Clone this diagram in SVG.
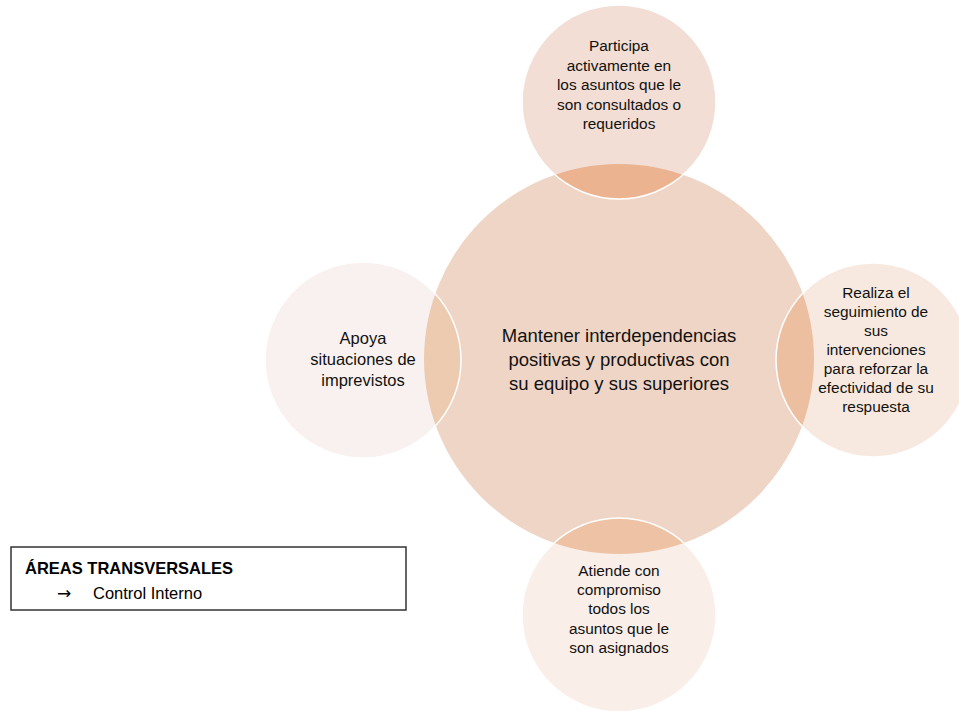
<svg xmlns="http://www.w3.org/2000/svg" width="959" height="711" viewBox="0 0 959 711">
<style>
.t{font-family:"Liberation Sans",Arial,sans-serif;font-size:15.4px;fill:#111;text-anchor:middle}
.m{font-size:18.5px}
.sat{stroke:#ffffff;stroke-width:1.5}
.lg{font-family:"Liberation Sans",Arial,sans-serif;font-size:16.5px;fill:#000}
</style>
<defs>
<clipPath id="mainClip"><circle cx="619" cy="359" r="195"/></clipPath>
</defs>
<rect width="959" height="711" fill="#ffffff"/>
<g id="main">
<circle cx="619" cy="359" r="195" fill="#EFD5C6"/>
<text class="t m" x="619" y="342">Mantener interdependencias</text>
<text class="t m" x="619" y="366">positivas y productivas con</text>
<text class="t m" x="619" y="390">su equipo y sus superiores</text>
</g>
<g id="top">
<circle cx="619" cy="102" r="97" fill="#F2DED4"/>
<circle cx="619" cy="102" r="97" fill="#EBB38F" clip-path="url(#mainClip)"/>
<circle class="sat" cx="619" cy="102" r="97" fill="none"/>
<text class="t" x="619" y="51">Participa</text>
<text class="t" x="619" y="71">activamente en</text>
<text class="t" x="619" y="90">los asuntos que le</text>
<text class="t" x="619" y="110">son consultados o</text>
<text class="t" x="619" y="129">requeridos</text>
</g>
<g id="right">
<circle cx="873" cy="360" r="97" fill="#F7E9DF"/>
<circle cx="873" cy="360" r="97" fill="#EBBF9F" clip-path="url(#mainClip)"/>
<circle class="sat" cx="873" cy="360" r="97" fill="none"/>
<text class="t" x="876" y="298">Realiza el</text>
<text class="t" x="876" y="317">seguimiento de</text>
<text class="t" x="876" y="336">sus</text>
<text class="t" x="876" y="355">intervenciones</text>
<text class="t" x="876" y="374">para reforzar la</text>
<text class="t" x="876" y="393">efectividad de su</text>
<text class="t" x="876" y="412">respuesta</text>
</g>
<g id="left">
<circle cx="363" cy="360" r="98" fill="#F9F1EF"/>
<circle cx="363" cy="360" r="98" fill="#ECCBB0" clip-path="url(#mainClip)"/>
<circle class="sat" cx="363" cy="360" r="98" fill="none"/>
<text class="t" x="363" y="344" style="font-size:16.5px">Apoya</text>
<text class="t" x="363" y="365" style="font-size:16.5px">situaciones de</text>
<text class="t" x="363" y="386" style="font-size:16.5px">imprevistos</text>
</g>
<g id="bottom">
<circle cx="619" cy="615" r="97" fill="#F9EEE8"/>
<circle cx="619" cy="615" r="97" fill="#EEC3A5" clip-path="url(#mainClip)"/>
<circle class="sat" cx="619" cy="615" r="97" fill="none"/>
<text class="t" x="619" y="576">Atiende con</text>
<text class="t" x="619" y="595">compromiso</text>
<text class="t" x="619" y="614">todos los</text>
<text class="t" x="619" y="634">asuntos que le</text>
<text class="t" x="619" y="653">son asignados</text>
</g>
<g id="legend">
<rect x="11" y="547" width="395" height="63" fill="#ffffff" stroke="#333333" stroke-width="1.5"/>
<text class="lg" x="25" y="574" font-weight="bold">ÁREAS TRANSVERSALES</text>
<text x="57" y="599" style="font-family:'DejaVu Sans',sans-serif;font-size:17px;fill:#000">→</text>
<text class="lg" x="93" y="599">Control Interno</text>
</g>
<g id="connectors"/>
</svg>
